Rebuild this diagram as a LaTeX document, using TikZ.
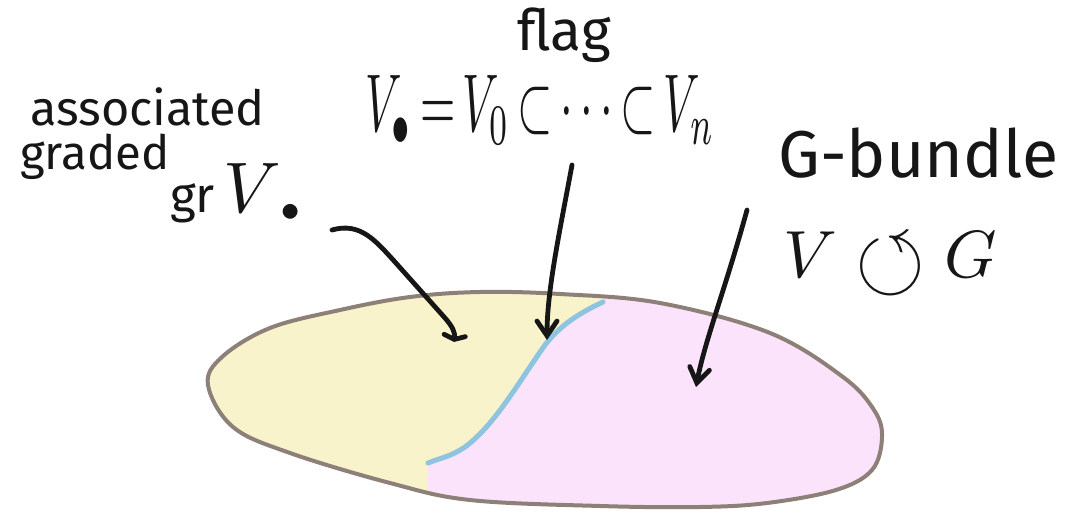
\documentclass[tikz,border=0pt]{standalone}
\usepackage{fontspec}
\setmainfont{Fira Sans}
\usepackage{amssymb}
\usepackage{graphicx}
\usetikzlibrary{arrows.meta}
\definecolor{yel}{RGB}{249,243,204}
\definecolor{pnk}{RGB}{251,228,251}
\definecolor{rim}{RGB}{140,128,120}
\definecolor{flagblue}{RGB}{142,196,224}
\definecolor{ink}{RGB}{22,22,22}
\begin{document}
\begin{tikzpicture}[x=0.75pt,y=-0.75pt,
  lbl/.style={anchor=base west,inner sep=0pt,text=ink},
  pen/.style={line width=3.6pt,line cap=round,line join=round,draw=ink}]
\useasboundingbox (0,0) rectangle (1079,513);
% coloured regions, clipped to the egg
\begin{scope}
\clip plot[smooth cycle,tension=0.6] coordinates {(208,385) (222,357) (270,328) (340,310) (410,297) (480,292) (560,294) (660,303) (770,333) (843,377) (874,410) (882,437) (872,470) (836,490) (767,503) (700,507) (600,506) (470,500) (390,483) (290,453) (233,427)};
\fill[yel] (150,250) -- (603,250) -- (603,302) .. controls (575,315) and (558,328) .. (545,345) .. controls (520,380) and (495,425) .. (465,447) .. controls (450,457) and (440,458) .. (428,463) -- (428,530) -- (150,530) -- cycle;
\fill[pnk] (603,250) -- (950,250) -- (950,530) -- (428,530) -- (428,463) .. controls (440,458) and (450,457) .. (465,447) .. controls (495,425) and (520,380) .. (545,345) .. controls (558,328) and (575,315) .. (603,302) -- cycle;
\end{scope}
\draw[rim,line width=3pt] plot[smooth cycle,tension=0.6] coordinates {(208,385) (222,357) (270,328) (340,310) (410,297) (480,292) (560,294) (660,303) (770,333) (843,377) (874,410) (882,437) (872,470) (836,490) (767,503) (700,507) (600,506) (470,500) (390,483) (290,453) (233,427)};
% the flag: blue dividing curve
\coordinate (fb) at (428,463);
\coordinate (ft) at (603,302);
\draw[flagblue,line width=3.8pt,line cap=round] (fb) .. controls (440,458) and (450,457) .. (465,447) .. controls (495,425) and (520,380) .. (545,345) .. controls (558,328) and (575,315) .. (ft);
% labels
\node[lbl] (assoc) at (30,126) {\resizebox{176pt}{!}{associated}};
\node[lbl] (graded) at (20,170) {\resizebox{112pt}{!}{graded}};
\node[lbl] (grV) at (170,213) {\resizebox{100pt}{!}{gr\,\scalebox{1.45}{$V$}$_{\bullet}$}};
\node[lbl] (flagw) at (517,51) {\resizebox{70pt}{!}{flag}};
\node[lbl] (flageq) at (365,132) {\resizebox{262pt}{42pt}{$V_{\bullet}\,{=}\,V_0\,{\subset}\,{\cdots}\,{\subset}\,V_n$}};
\node[lbl] (gb) at (778,178) {\resizebox{210pt}{!}{G-bundle}};
\node[lbl] (act) at (783,278) {\resizebox{160pt}{!}{$V\;\raisebox{-0.15em}{\scalebox{1.35}{$\circlearrowleft$}}\;G$}};
% arrows
\coordinate (a1s) at (332,230);
\coordinate (a1e) at (454,342);
\coordinate (a2s) at (572,165);
\coordinate (a2e) at (547,340);
\coordinate (a3s) at (747,210);
\coordinate (a3e) at (696,387);
\draw[pen,-{Straight Barb[length=3pt,width=16pt,line cap=round]}] (a1s) .. controls (360,222) and (375,240) .. (395,262) -- (445,318) .. controls (453,327) and (455,333) .. (a1e);
\draw[pen,-{Straight Barb[length=11pt,width=15pt,line cap=round]}] (a2s) .. controls (560,230) and (547,290) .. (a2e);
\draw[pen,-{Straight Barb[length=11pt,width=15pt,line cap=round]}] (a3s) .. controls (725,290) and (705,340) .. (a3e);
\end{tikzpicture}
\end{document}
